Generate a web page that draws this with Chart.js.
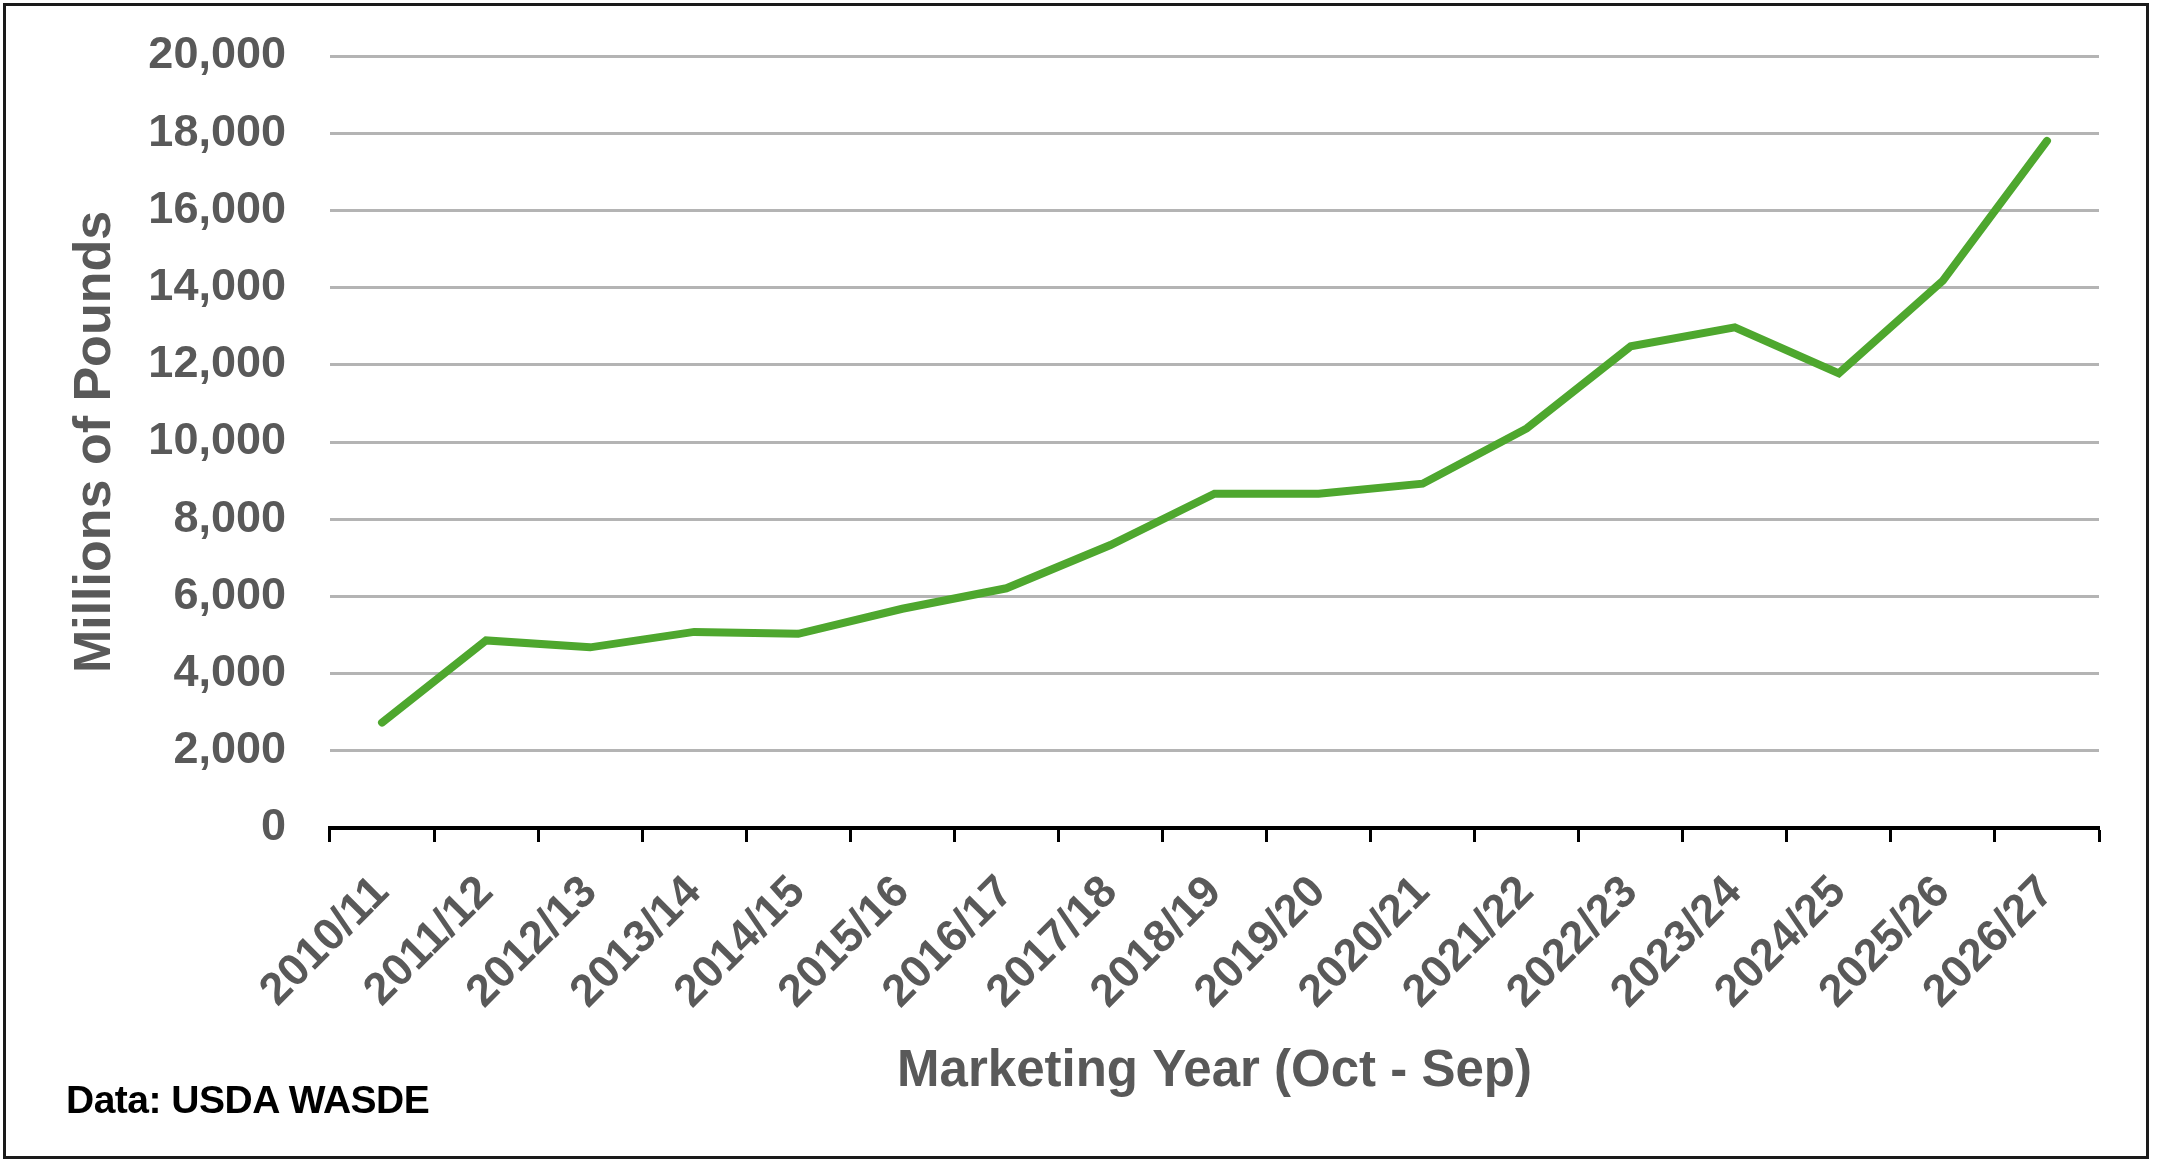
<!DOCTYPE html>
<html>
<head>
<meta charset="utf-8">
<script src="https://cdn.jsdelivr.net/npm/chart.js@4.4.1/dist/chart.umd.min.js"></script>
<style>
    html, body { margin: 0; padding: 0; background: #fff; }
    #wrap { position: relative; width: 2158px; height: 1168px; }
    #frame { position: absolute; left: 3px; top: 3px; width: 2146px; height: 1156px; border: 3px solid #1a1a1a; box-sizing: border-box; pointer-events: none; }
    #source { position: absolute; left: 66px; top: 1078px; font-family: "Liberation Sans", Arial, sans-serif; font-weight: bold; font-size: 39px; color: #000; letter-spacing: -0.5px; }
</style>
</head>
<body>
<div id="wrap">
    <canvas id="chart" width="2158" height="1168"></canvas>
    <div id="frame"></div>
    <div id="source">Data: USDA WASDE</div>
</div>
<script>
// 시장연도별 값 (백만 파운드)
const years = ['2010/11', '2011/12', '2012/13', '2013/14', '2014/15', '2015/16', '2016/17', '2017/18', '2018/19',
    '2019/20', '2020/21', '2021/22', '2022/23', '2023/24', '2024/25', '2025/26', '2026/27'];
const pounds = [2730, 4860, 4680, 5080, 5030, 5680, 6210, 7330, 8660, 8660, 8920, 10350, 12480, 12970, 11780, 14180, 17800];
const yTicks = [0, 2000, 4000, 6000, 8000, 10000, 12000, 14000, 16000, 18000, 20000];

const grey = '#595959';
const labelFont = { family: '"Liberation Sans", Arial, sans-serif', weight: 'bold', size: 45 };

new Chart(document.getElementById('chart'), {
    type: 'line',
    data: {
        labels: years,
        datasets: [{
            data: pounds,
            borderColor: '#4ea72e',
            borderWidth: 8,
            pointRadius: 0,
            tension: 0,
            borderCapStyle: 'round'
        }]
    },
    options: {
        responsive: false,
        animation: false,
        devicePixelRatio: 1,
        layout: { padding: { top: 56, right: 59, left: 40, bottom: 40 } },
        plugins: { legend: { display: false }, tooltip: { enabled: false } },
        scales: {
            x: {
                offset: true,
                grid: { drawOnChartArea: false, drawTicks: true, tickLength: 14, tickWidth: 3, tickColor: '#000', offset: true },
                border: { display: true, color: '#000', width: 4 },
                ticks: { color: grey, font: labelFont, minRotation: 45, maxRotation: 45, padding: 24, autoSkip: false },
                title: {
                    display: true,
                    text: 'Marketing Year (Oct - Sep)',
                    color: grey,
                    font: { family: '"Liberation Sans", Arial, sans-serif', weight: 'bold', size: 51 },
                    padding: { top: 0, bottom: 25 }
                },
                afterFit(scale) {
                    scale.height = 300;
                    scale.paddingLeft = 0;
                    scale.paddingRight = 0;
                }
            },
            y: {
                min: 0,
                max: 20000,
                afterBuildTicks(scale) { scale.ticks = yTicks.map(v => ({ value: v })); },
                grid: {
                    drawTicks: false,
                    lineWidth: 3,
                    color: ctx => ctx.tick && ctx.tick.value === 0 ? 'rgba(0,0,0,0)' : '#b4b4b4'
                },
                border: { display: false },
                ticks: {
                    color: grey,
                    font: labelFont,
                    padding: 44,
                    callback: v => Number(v).toLocaleString('en-US')
                },
                title: {
                    display: true,
                    text: 'Millions of Pounds',
                    color: grey,
                    font: { family: '"Liberation Sans", Arial, sans-serif', weight: 'bold', size: 52 },
                    padding: { top: 24, bottom: 0 }
                },
                afterFit(scale) {
                    scale.width = 290;
                    scale.paddingTop = 0;
                    scale.paddingBottom = 0;
                }
            }
        }
    }
});
</script>
</body>
</html>
